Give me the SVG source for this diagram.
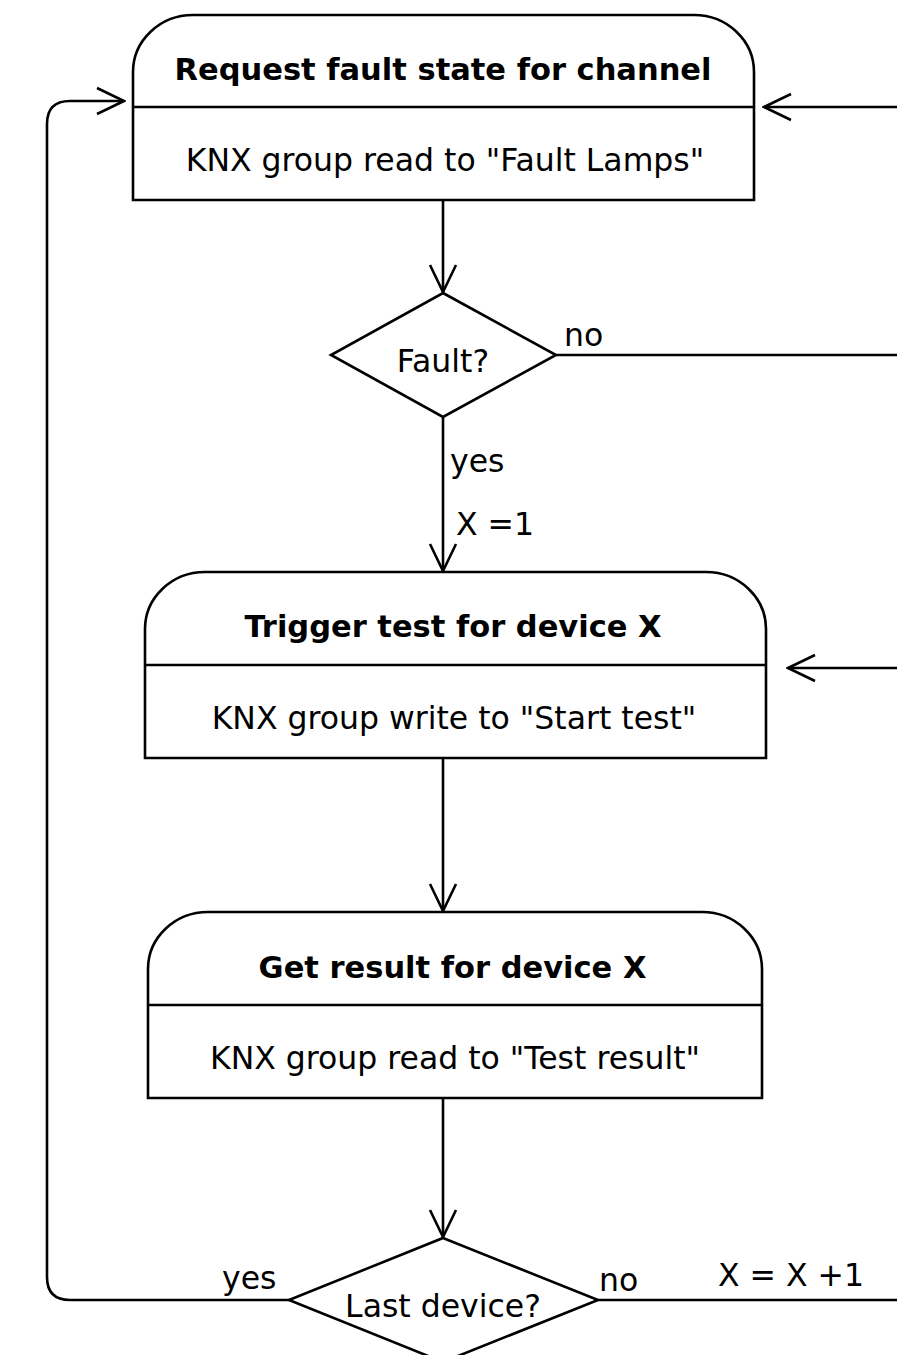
<svg xmlns="http://www.w3.org/2000/svg" width="897" height="1355" viewBox="0 0 897 1355">
<defs>
<style>
.shape{fill:#fff;stroke:#000;stroke-width:2.6}
.line{fill:none;stroke:#000;stroke-width:2.6}
.t{font-family:"DejaVu Sans",Verdana,sans-serif;font-size:31.5px;fill:#000}
.b{font-weight:bold;font-size:30.5px}
.c{text-anchor:middle}
</style>
<marker id="arr" viewBox="0 0 30 30" refX="28" refY="15" markerWidth="30" markerHeight="30" markerUnits="userSpaceOnUse" orient="auto">
<path d="M1,2 L28,15 L1,28" fill="none" stroke="#000" stroke-width="2.6"/>
</marker>
</defs>
<rect width="897" height="1355" fill="#fff"/>
<g id="connectors">
<path class="line" d="M443,200 V292" marker-end="url(#arr)"/>
<path class="line" d="M556,355 H897"/>
<path class="line" d="M897,107 H764" marker-end="url(#arr)"/>
<path class="line" d="M443,417 V571" marker-end="url(#arr)"/>
<path class="line" d="M897,668 H788" marker-end="url(#arr)"/>
<path class="line" d="M443,758 V911" marker-end="url(#arr)"/>
<path class="line" d="M443,1098 V1237" marker-end="url(#arr)"/>
<path class="line" d="M289,1300 H70 Q47,1300 47,1277 V124 Q47,101 70,101 H124" marker-end="url(#arr)"/>
<path class="line" d="M598,1300 H897"/>
<text class="t" x="564" y="346">no</text>
<text class="t" x="450" y="472">yes</text>
<text class="t" x="456" y="535">X =1</text>
<text class="t" x="222" y="1289">yes</text>
<text class="t" x="599" y="1291">no</text>
<text class="t" x="718" y="1286">X = X +1</text>
</g>
<g id="node1">
<path class="shape" d="M133,200 V72 A60,57 0 0 1 193,15 H694 A60,57 0 0 1 754,72 V200 Z"/>
<path class="line" d="M133,107 H754"/>
<text class="t b c" x="443" y="80">Request fault state for channel</text>
<text class="t c" x="445" y="171">KNX group read to "Fault Lamps"</text>
</g>
<g id="decision1">
<path class="shape" d="M443,293 L556,355 L443,417 L331,355 Z"/>
<text class="t c" x="443" y="372">Fault?</text>
</g>
<g id="node2">
<path class="shape" d="M145,758 V629 A60,57 0 0 1 205,572 H706 A60,57 0 0 1 766,629 V758 Z"/>
<path class="line" d="M145,665 H766"/>
<text class="t b c" x="453" y="637">Trigger test for device X</text>
<text class="t c" x="454" y="729">KNX group write to "Start test"</text>
</g>
<g id="node3">
<path class="shape" d="M148,1098 V969 A60,57 0 0 1 208,912 H702 A60,57 0 0 1 762,969 V1098 Z"/>
<path class="line" d="M148,1005 H762"/>
<text class="t b c" x="452.5" y="978">Get result for device X</text>
<text class="t c" x="455" y="1069">KNX group read to "Test result"</text>
</g>
<g id="decision2">
<path class="shape" d="M443,1238 L598,1300 L443,1362 L289,1300 Z"/>
<text class="t c" x="443" y="1317">Last device?</text>
</g>
</svg>
